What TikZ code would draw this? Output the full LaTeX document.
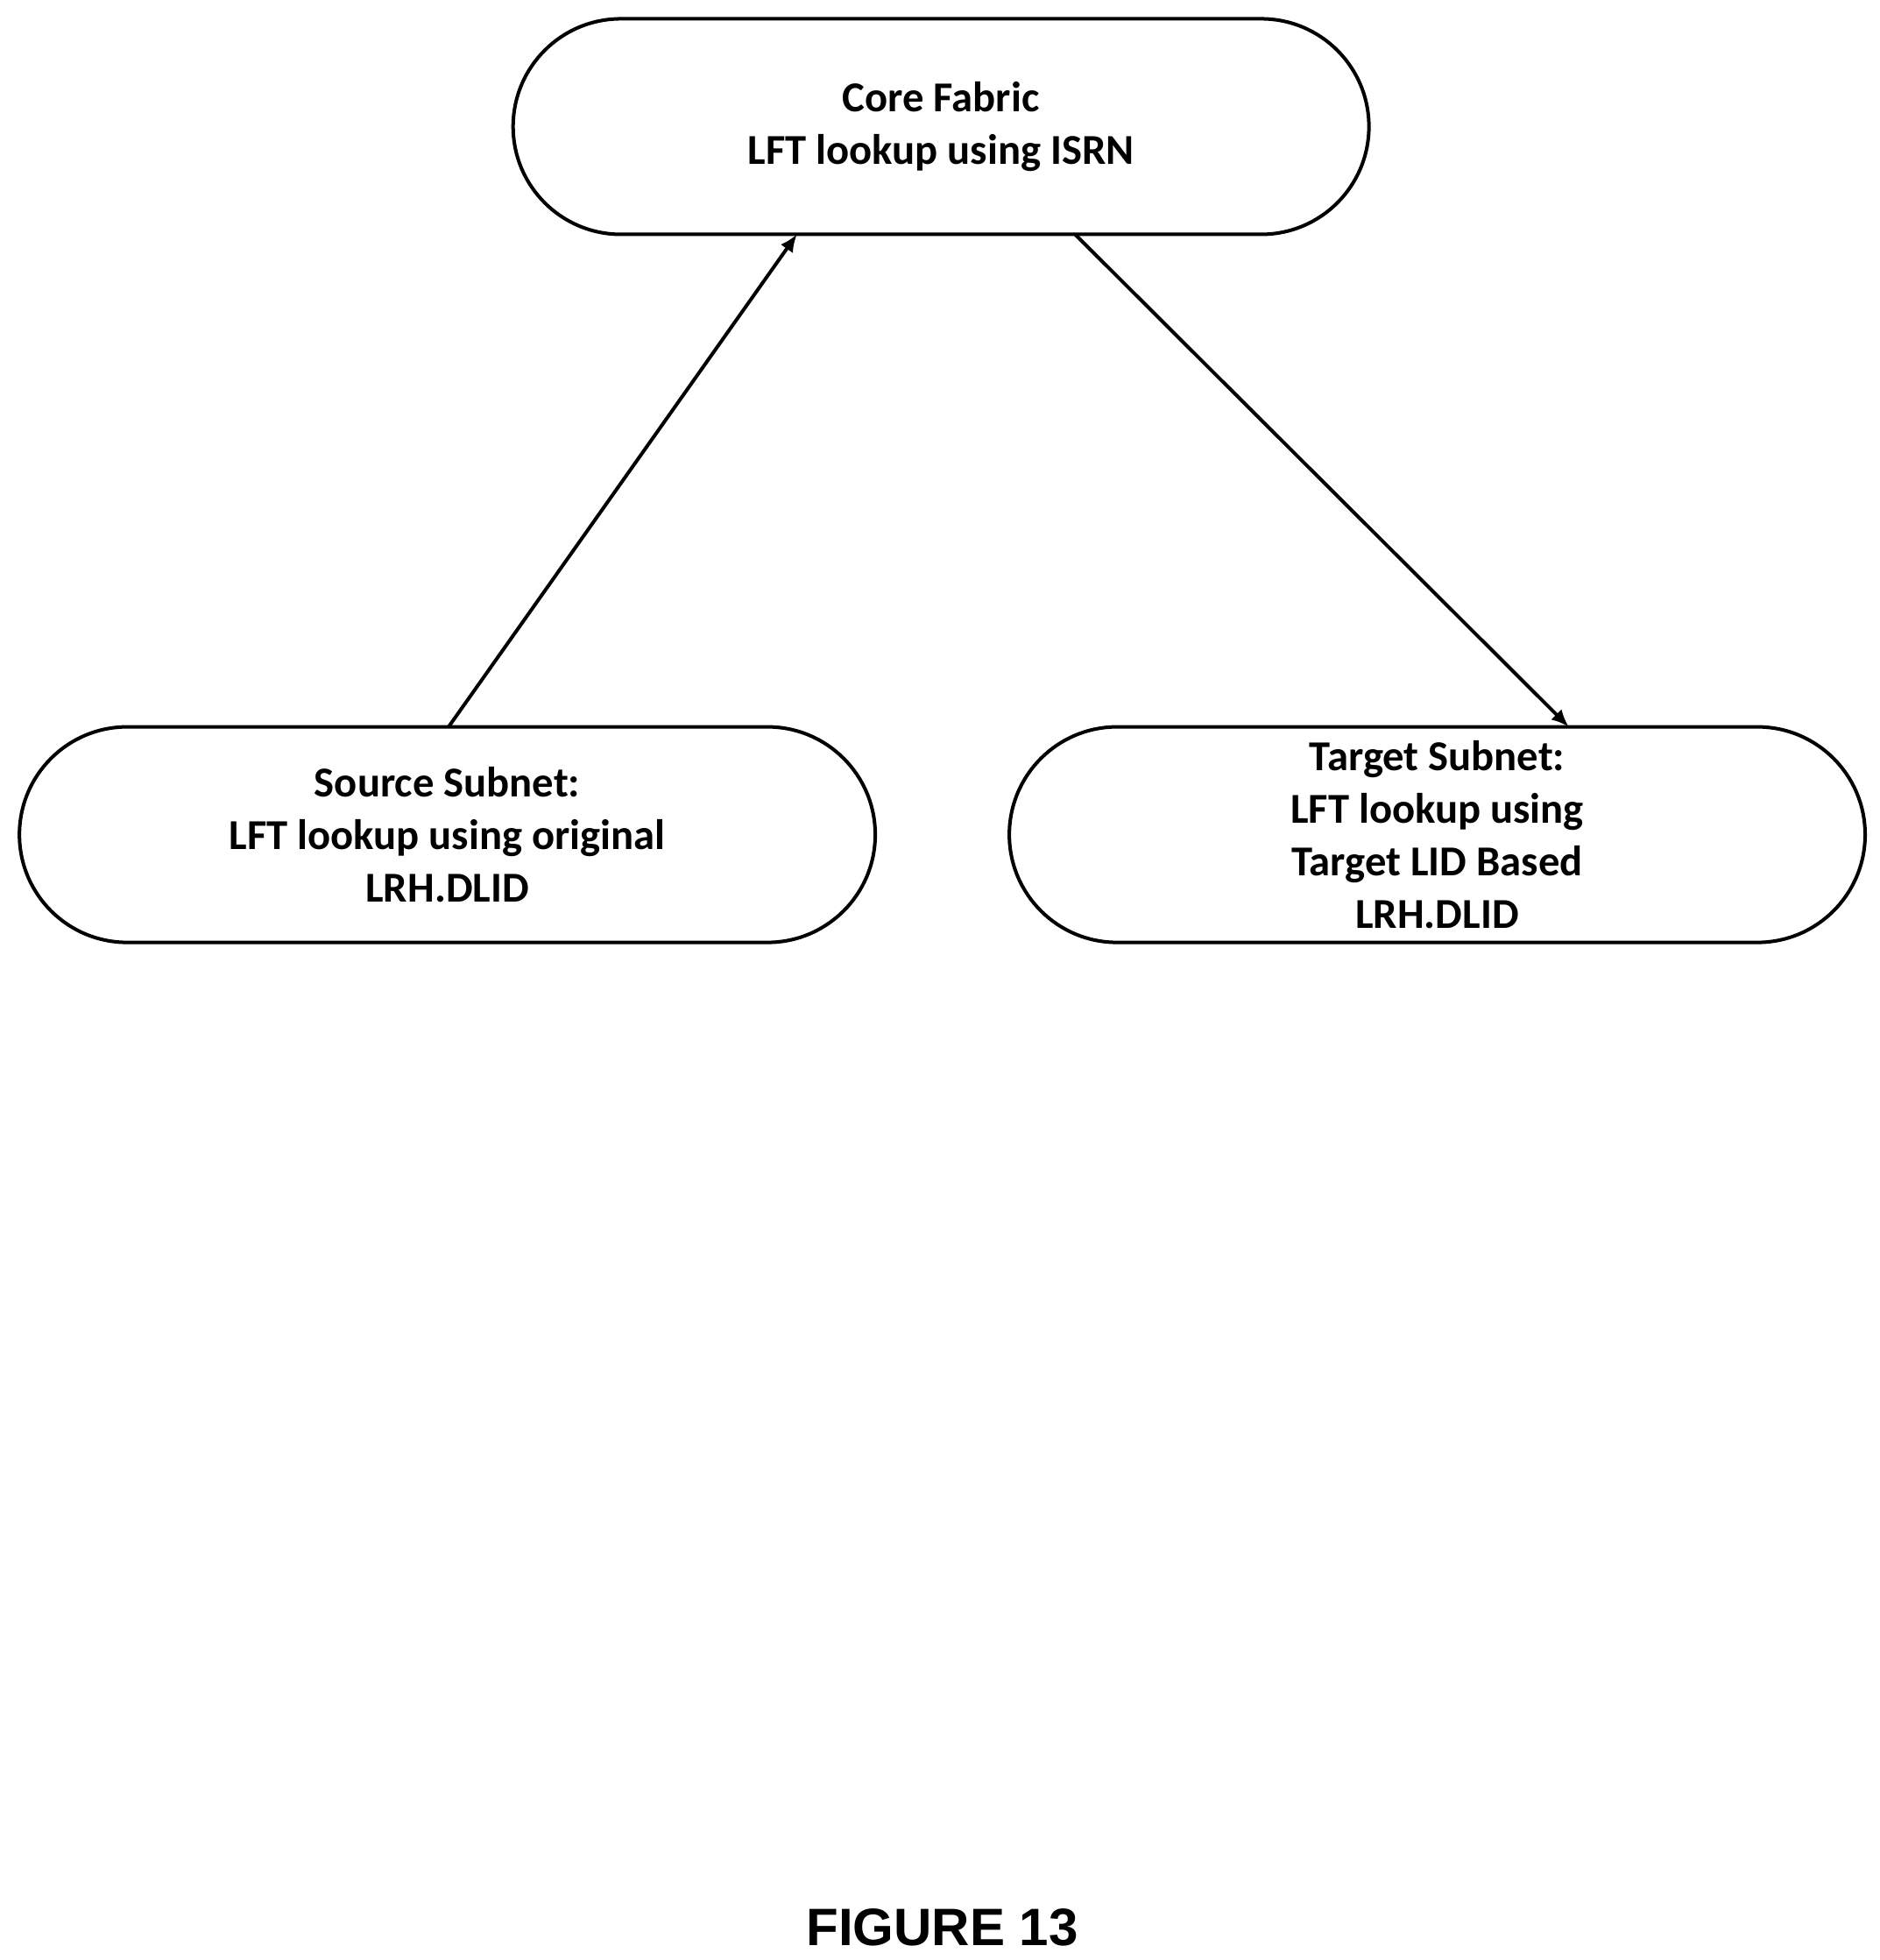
\documentclass[tikz,border=0pt]{standalone}
\usepackage{fontspec}
\setmainfont{Carlito}
\newfontfamily\figfont{Liberation Sans}
\usetikzlibrary{arrows.meta}
\begin{document}
\begin{tikzpicture}[x=0.5pt,y=-0.5pt,
  pill/.style={draw,line width=1.4pt,rounded corners=43pt,minimum width=341.5pt,minimum height=86pt,align=center,font=\fontsize{17}{21}\selectfont\bfseries},
  arr/.style={line width=1.4pt,-{Latex[length=7pt,width=6pt]}}]
\useasboundingbox (0,0) rectangle (1500,1564);
\node[pill] (core) at (751,101) {Core Fabric\\LFT lookup using ISRN};
\node[pill] (src) at (357,666) {Source Subnet:\\LFT lookup using original\\LRH.DLID};
\node[pill] (tgt) at (1147,666) {Target Subnet:\\LFT lookup using\\Target LID Based\\LRH.DLID};
\coordinate (a1) at (358,580); \coordinate (b1) at (636,187);
\coordinate (a2) at (858,187); \coordinate (b2) at (1252,580);
\draw[arr] (a1) -- (b1);
\draw[arr] (a2) -- (b2);
\node[font=\figfont\fontsize{21}{25}\selectfont\bfseries] (fig) at (752,1538) {FIGURE 13};
\end{tikzpicture}
\end{document}
